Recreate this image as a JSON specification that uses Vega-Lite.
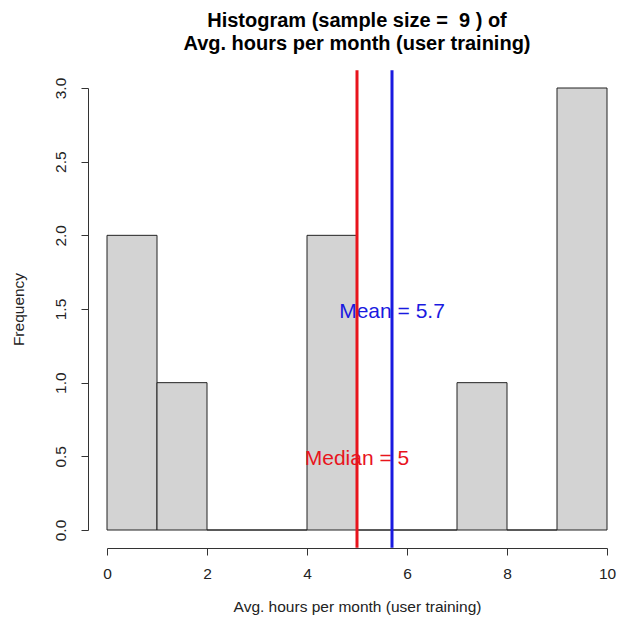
{
  "$schema": "https://vega.github.io/schema/vega-lite/v6.json",
  "width": 500,
  "height": 442,
  "autosize": {"type": "none"},
  "padding": {"left": 107, "top": 88, "right": 11, "bottom": 99},
  "background": "white",
  "config": {
    "view": {"stroke": null},
    "font": "Liberation Sans"
  },
  "title": {
    "text": ["Histogram (sample size =\u00a0 9 ) of", "Avg. hours per month (user training)"],
    "fontSize": 20,
    "fontWeight": "bold",
    "anchor": "middle",
    "lineHeight": 23,
    "offset": 15,
    "color": "black",
    "font": "Liberation Sans"
  },
  "datasets": {
    "bins": [
      {"bin_start": 0, "bin_end": 1, "count": 2},
      {"bin_start": 1, "bin_end": 2, "count": 1},
      {"bin_start": 2, "bin_end": 3, "count": 0},
      {"bin_start": 3, "bin_end": 4, "count": 0},
      {"bin_start": 4, "bin_end": 5, "count": 2},
      {"bin_start": 5, "bin_end": 6, "count": 0},
      {"bin_start": 6, "bin_end": 7, "count": 0},
      {"bin_start": 7, "bin_end": 8, "count": 1},
      {"bin_start": 8, "bin_end": 9, "count": 0},
      {"bin_start": 9, "bin_end": 10, "count": 3}
    ],
    "stats": [
      {"stat": "Median", "value": 5, "label": "Median = 5", "label_y": 0.5, "top": 3.12, "bottom": -0.12},
      {"stat": "Mean", "value": 5.7, "label": "Mean = 5.7", "label_y": 1.5, "top": 3.12, "bottom": -0.12}
    ]
  },
  "layer": [
    {
      "data": {"name": "bins"},
      "mark": {"type": "rect", "fill": "#d3d3d3", "stroke": "#222222", "strokeWidth": 1},
      "encoding": {
        "x": {
          "field": "bin_start",
          "type": "quantitative",
          "scale": {"domain": [0, 10], "nice": false, "zero": false},
          "axis": {
            "title": "Avg. hours per month (user training)",
            "values": [0, 2, 4, 6, 8, 10],
            "format": "d",
            "grid": false,
            "offset": 18,
            "tickSize": 7,
            "tickColor": "#333333",
            "domainColor": "#333333",
            "labelFlush": false,
            "labelFontSize": 15.5,
            "labelColor": "#222222",
            "labelPadding": 11,
            "labelFont": "Liberation Sans",
            "titleFontSize": 15.5,
            "titleFontWeight": "normal",
            "titleColor": "#222222",
            "titleFont": "Liberation Sans",
            "titleY": 58,
            "titleBaseline": "middle"
          }
        },
        "x2": {"field": "bin_end"},
        "y": {
          "field": "count",
          "type": "quantitative",
          "scale": {"domain": [0, 3], "nice": false},
          "axis": {
            "title": "Frequency",
            "values": [0, 0.5, 1, 1.5, 2, 2.5, 3],
            "format": ".1f",
            "grid": false,
            "offset": 19,
            "tickSize": 7,
            "tickColor": "#333333",
            "domainColor": "#333333",
            "labelFlush": false,
            "labelAngle": -90,
            "labelAlign": "center",
            "labelBaseline": "bottom",
            "labelFontSize": 15.5,
            "labelColor": "#222222",
            "labelPadding": 13,
            "labelFont": "Liberation Sans",
            "titleFontSize": 15.5,
            "titleFontWeight": "normal",
            "titleColor": "#222222",
            "titleFont": "Liberation Sans",
            "titleX": -70,
            "titleBaseline": "middle"
          }
        },
        "y2": {"datum": 0}
      }
    },
    {
      "data": {"name": "stats"},
      "mark": {"type": "text", "fontSize": 21, "align": "center", "baseline": "middle", "dy": 3, "font": "Liberation Sans"},
      "encoding": {
        "x": {"field": "value", "type": "quantitative"},
        "y": {"field": "label_y", "type": "quantitative"},
        "text": {"field": "label"},
        "color": {
          "field": "stat",
          "type": "nominal",
          "scale": {"domain": ["Median", "Mean"], "range": ["#e8141c", "#1a1ae0"]},
          "legend": null
        }
      }
    },
    {
      "data": {"name": "stats"},
      "mark": {"type": "rule", "strokeWidth": 3},
      "encoding": {
        "x": {"field": "value", "type": "quantitative"},
        "y": {"field": "top", "type": "quantitative"},
        "y2": {"field": "bottom"},
        "color": {
          "field": "stat",
          "type": "nominal",
          "scale": {"domain": ["Median", "Mean"], "range": ["#e8141c", "#1a1ae0"]},
          "legend": null
        }
      }
    }
  ]
}
